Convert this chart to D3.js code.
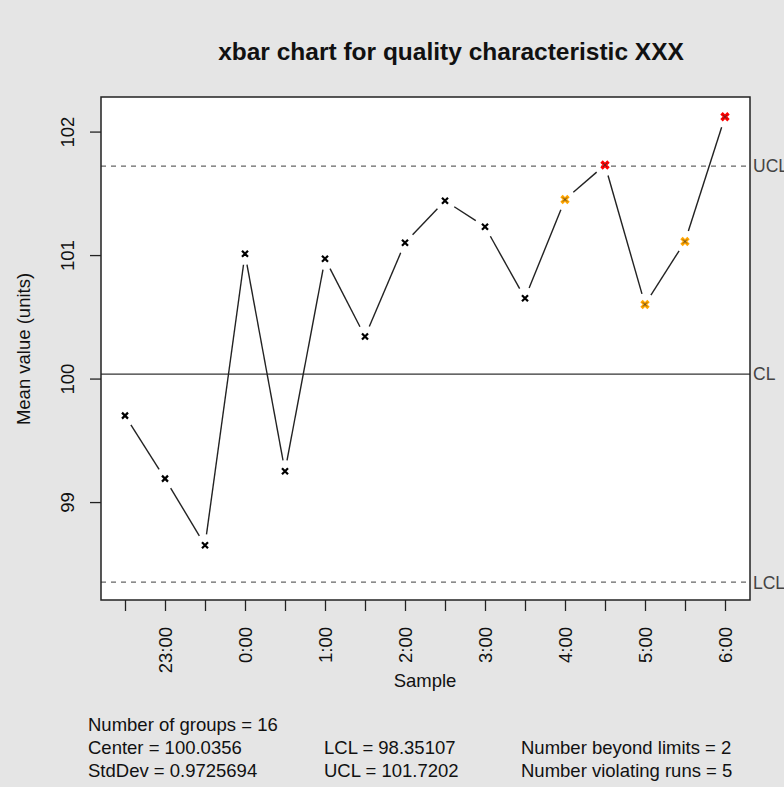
<!DOCTYPE html>
<html>
<head>
<meta charset="utf-8">
<script src="https://cdn.jsdelivr.net/npm/d3@7"></script>
<style>
  body { margin: 0; background: #e5e5e5; }
  svg { display: block; font-family: "Liberation Sans", Arial, sans-serif; }
</style>
</head>
<body>
<div class="chart"></div>
<script>
// chart data
const samples = ["22:30", "23:00", "23:30", "0:00", "0:30", "1:00", "1:30", "2:00",
                 "2:30", "3:00", "3:30", "4:00", "4:30", "5:00", "5:30", "6:00"];
const means = [99.70, 99.19, 98.65, 101.01, 99.25, 100.97, 100.34, 101.10,
               101.44, 101.23, 100.65, 101.45, 101.73, 100.60, 101.11, 102.12];
// status: 0 ok, 1 violating run, 2 beyond limits
const status = [0, 0, 0, 0, 0, 0, 0, 0, 0, 0, 0, 1, 2, 1, 1, 2];
const yTicks = [99, 100, 101, 102];
const limitNames = ["UCL", "CL", "LCL"];
const limitValues = [101.7202, 100.0356, 98.35107];
const statLines = [
  ["Number of groups = 16", "", ""],
  ["Center = 100.0356", "LCL = 98.35107", "Number beyond limits = 2"],
  ["StdDev = 0.9725694", "UCL = 101.7202", "Number violating runs = 5"]
];

const w = 784, h = 787;
const mLeft = 101, mRight = 750, mTop = 97, mBottom = 600;
const colors = ["#000", "#ffa500", "#ff0000"];
const fs = 18.5;

const points = means.map((v, i) => ({ s: samples[i], v: v, st: status[i] }));

const svg = d3.select(".chart").append("svg")
  .attr("width", w)
  .attr("height", h);

svg.append("rect")
  .attr("width", w).attr("height", h)
  .attr("fill", "#e5e5e5");

svg.append("rect")
  .attr("x", mLeft).attr("y", mTop)
  .attr("width", mRight - mLeft).attr("height", mBottom - mTop)
  .attr("fill", "#fff");

// scales
const x = d3.scalePoint()
  .domain(samples)
  .range([125, 725]);

const y = d3.scaleLinear()
  .domain([98.207, 102.28])
  .range([mBottom, mTop]);

// limit lines
limitNames.forEach((name, i) => {
  const dashed = name !== "CL";
  svg.append("line")
    .attr("x1", mLeft).attr("x2", mRight)
    .attr("y1", y(limitValues[i])).attr("y2", y(limitValues[i]))
    .attr("stroke", dashed ? "#666" : "#333")
    .attr("stroke-width", 1.3)
    .attr("stroke-dasharray", dashed ? "5,5" : null);
  svg.append("text")
    .attr("x", mRight + 3)
    .attr("y", y(limitValues[i]))
    .attr("dy", "0.36em")
    .attr("font-size", 17.5)
    .attr("fill", "#444")
    .text(name);
});

// connecting lines with a gap round each point
const gap = 11;
for (let i = 0; i < points.length - 1; i++) {
  const x1 = x(points[i].s), y1 = y(points[i].v);
  const x2 = x(points[i + 1].s), y2 = y(points[i + 1].v);
  const len = Math.hypot(x2 - x1, y2 - y1);
  if (len <= gap * 2) continue;
  const ux = (x2 - x1) / len, uy = (y2 - y1) / len;
  svg.append("line")
    .attr("x1", x1 + ux * gap).attr("y1", y1 + uy * gap)
    .attr("x2", x2 - ux * gap).attr("y2", y2 - uy * gap)
    .attr("stroke", "#222")
    .attr("stroke-width", 1.4);
}

// points
svg.selectAll(".pt")
  .data(points)
  .enter()
  .append("path")
  .attr("class", "pt")
  .attr("transform", d => "translate(" + x(d.s) + "," + y(d.v) + ")")
  .attr("d", d => d.st ? "M-3.5,-3.5L3.5,3.5M-3.5,3.5L3.5,-3.5" : "M-3,-3L3,3M-3,3L3,-3")
  .attr("stroke", d => colors[d.st])
  .attr("stroke-width", d => d.st ? 3.4 : 2.2);

svg.selectAll(".ptc")
  .data(points.filter(d => d.st > 0))
  .enter()
  .append("path")
  .attr("class", "ptc")
  .attr("transform", d => "translate(" + x(d.s) + "," + y(d.v) + ")")
  .attr("d", "M-2,-2L2,2M-2,2L2,-2")
  .attr("stroke", "#333")
  .attr("stroke-width", 0.8);

// box
svg.append("rect")
  .attr("x", mLeft).attr("y", mTop)
  .attr("width", mRight - mLeft).attr("height", mBottom - mTop)
  .attr("fill", "none")
  .attr("stroke", "#222")
  .attr("stroke-width", 1.5);

// y axis
const yAxis = d3.axisLeft(y).tickValues(yTicks).tickFormat(d3.format("d")).tickSize(11);
const gy = svg.append("g")
  .attr("transform", "translate(" + mLeft + ",0)")
  .call(yAxis);
gy.select(".domain").remove();
gy.selectAll("line").attr("stroke", "#222").attr("stroke-width", 1.3);
gy.selectAll("text")
  .attr("font-size", fs)
  .attr("fill", "#111")
  .attr("font-family", "Liberation Sans, Arial, sans-serif")
  .attr("transform", "rotate(-90)")
  .attr("x", 0).attr("y", -27).attr("dy", 0)
  .attr("text-anchor", "middle");

// x axis
const xAxis = d3.axisBottom(x)
  .tickSize(11)
  .tickFormat(d => d.endsWith(":00") ? d : "");
const gx = svg.append("g")
  .attr("transform", "translate(0," + mBottom + ")")
  .call(xAxis);
gx.select(".domain").remove();
gx.selectAll("line").attr("stroke", "#222").attr("stroke-width", 1.3);
gx.selectAll("text")
  .attr("font-size", fs)
  .attr("fill", "#111")
  .attr("font-family", "Liberation Sans, Arial, sans-serif")
  .attr("transform", "rotate(-90)")
  .attr("x", -27).attr("y", 0).attr("dy", "0.35em")
  .attr("text-anchor", "end");

// titles
svg.append("text")
  .attr("x", 451).attr("y", 60)
  .attr("text-anchor", "middle")
  .attr("font-size", 24.5)
  .attr("font-weight", "bold")
  .attr("fill", "#111")
  .text("xbar chart for quality characteristic XXX");

svg.append("text")
  .attr("x", 425).attr("y", 687)
  .attr("text-anchor", "middle")
  .attr("font-size", fs)
  .attr("fill", "#111")
  .text("Sample");

svg.append("text")
  .attr("transform", "translate(30,349) rotate(-90)")
  .attr("text-anchor", "middle")
  .attr("font-size", fs)
  .attr("fill", "#111")
  .text("Mean value (units)");

// stats below the chart
const colX = [88, 324, 521];
statLines.forEach((row, r) => {
  row.forEach((t, c) => {
    if (!t) return;
    svg.append("text")
      .attr("x", colX[c]).attr("y", 731 + r * 23)
      .attr("font-size", fs)
      .attr("fill", "#111")
      .text(t);
  });
});
</script>
</body>
</html>
